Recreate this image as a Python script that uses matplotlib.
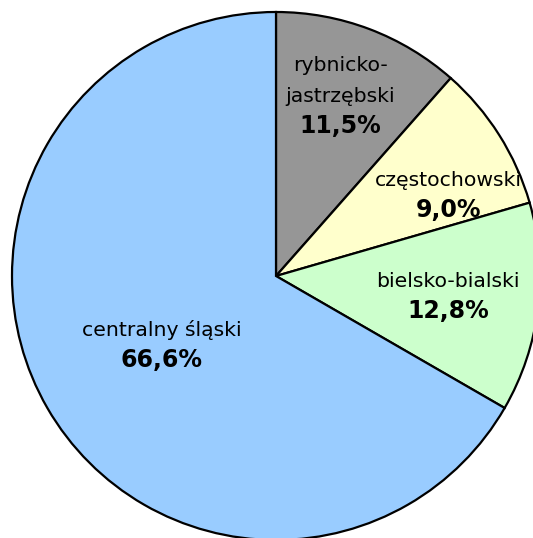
import numpy as np
import matplotlib
matplotlib.use("Agg")
import matplotlib.pyplot as plt

categories = ["rybnicko-\njastrzębski", "częstochowski", "bielsko-bialski", "centralny śląski"]
values = [11.5, 9.0, 12.8, 66.6]
value_labels = ["11,5%", "9,0%", "12,8%", "66,6%"]
colors = ["#969696", "#FFFFCC", "#CCFFCC", "#99CCFF"]

# label placement (radius fraction, angle tweak in degrees)
label_r = [0.67, 0.72, 0.656, 0.505]
label_dang = [-0.5, -7.2, 0.2, 1.0]

W, H = 533, 538
cx, cy, R = 276, 276, 264
fig = plt.figure(figsize=(W / 100, H / 100), dpi=100)
ax = fig.add_axes([0, 0, 1, 1])

wedges, _ = ax.pie(values, colors=colors, startangle=90, counterclock=False,
                   radius=1.0, center=(0, 0), frame=True,
                   wedgeprops=dict(edgecolor="black", linewidth=1.6))
ax.set_xlim(-cx / R, (W - cx) / R)
ax.set_ylim(-(H - cy) / R, cy / R)
ax.set_aspect("auto")
ax.axis("off")

half = 15 / R
step = 31 / R
for w, name, val, r, da in zip(wedges, categories, value_labels, label_r, label_dang):
    ang = np.deg2rad((w.theta1 + w.theta2) / 2 + da)
    x, y = r * np.cos(ang), r * np.sin(ang)
    lines = name.split("\n")
    for k, line in enumerate(reversed(lines)):
        ax.text(x, y + half + k * step, line, ha="center", va="center",
                fontsize=14.7, family="DejaVu Sans")
    ax.text(x, y - half, val, ha="center", va="center", fontsize=17,
            fontweight="bold", family="DejaVu Sans")

fig.savefig("out.png", dpi=100)
